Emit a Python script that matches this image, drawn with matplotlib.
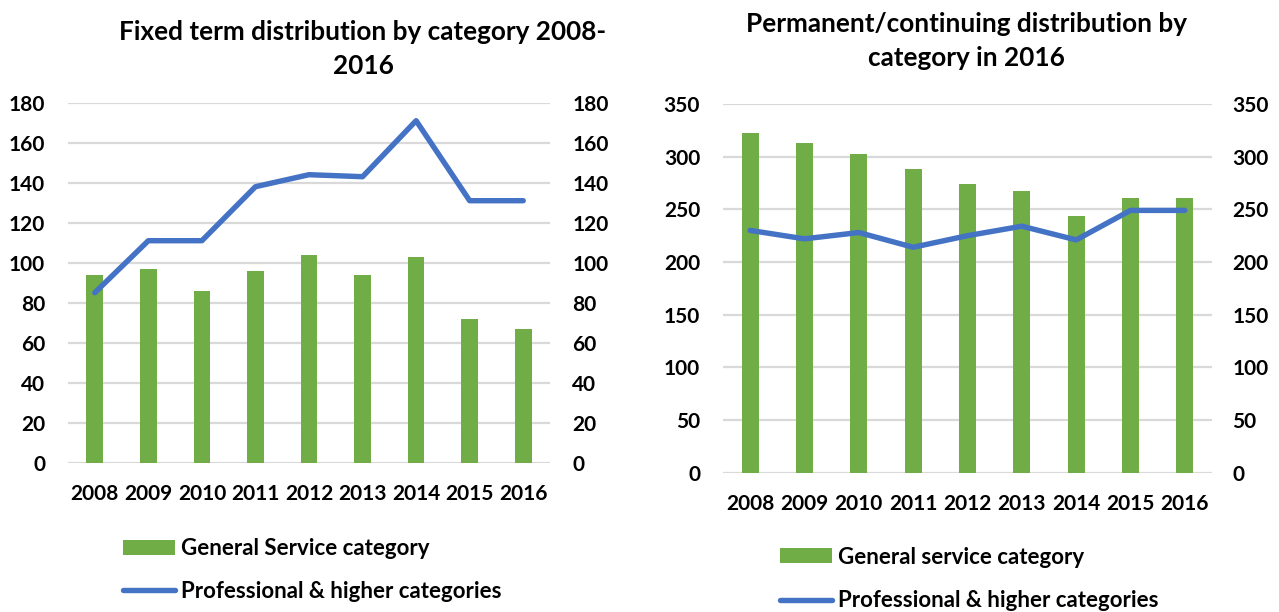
import numpy as np
import matplotlib
matplotlib.use('Agg')
import matplotlib.pyplot as plt
from matplotlib.patches import Patch
from matplotlib.lines import Line2D

years = ['2008', '2009', '2010', '2011', '2012', '2013', '2014', '2015', '2016']

fixed_general = [94, 97, 86, 96, 104, 94, 103, 72, 67]
fixed_prof = [85, 111, 111, 138, 144, 143, 171, 131, 131]

perm_general = [322, 313, 303, 288, 274, 267, 244, 261, 261]
perm_prof = [230, 222, 228, 214, 225, 234, 221, 249, 249]

green = '#70ad47'
blue = '#4472c4'
grid_col = '#d9d9d9'

plt.rcParams['font.family'] = ['Lato', 'DejaVu Sans']
plt.rcParams['font.weight'] = 'bold'

W, H = 1279, 612
fig = plt.figure(figsize=(W/100, H/100), dpi=100)

def px_axes(x0, y0, x1, y1):
    # pixel box (top-left origin) -> figure fraction
    return fig.add_axes([x0/W, 1 - y1/H, (x1-x0)/W, (y1-y0)/H])

def panel(ax, general, prof, ymax, step, lpad, rpad):
    x = np.arange(len(years))
    ax.bar(x, general, width=0.31, color=green, zorder=2)
    ax.plot(x, prof, color=blue, linewidth=3.9, solid_capstyle='round', zorder=3)
    ax.set_xlim(-0.5, len(years) - 0.5)
    ax.set_ylim(0, ymax)
    ax.set_yticks(np.arange(0, ymax + 1, step))
    ax.set_xticks(x)
    ax.set_xticklabels(years)
    ax.grid(axis='y', color=grid_col, linewidth=1.6, zorder=0)
    ax.set_axisbelow(True)
    for s in ax.spines.values():
        s.set_visible(False)
    ax.tick_params(axis='both', length=0, labelsize=15)
    ax.tick_params(axis='y', pad=lpad)
    ax.tick_params(axis='x', pad=15)
    ax2 = ax.twinx()
    ax2.set_ylim(0, ymax)
    ax2.set_yticks(np.arange(0, ymax + 1, step))
    for s in ax2.spines.values():
        s.set_visible(False)
    ax2.tick_params(axis='y', length=0, labelsize=15, pad=rpad)
    return ax2

ax1 = px_axes(68, 102.7, 550, 462.7)
panel(ax1, fixed_general, fixed_prof, 180, 20, 16.5, 16)

ax3 = px_axes(723, 104, 1212, 472.7)
panel(ax3, perm_general, perm_prof, 350, 50, 16.5, 14.5)

tfs = 18.8
fig.text(363/W, 1 - 40/H, 'Fixed term distribution by category 2008-', ha='center', va='baseline', fontsize=tfs, fontweight='bold')
fig.text(363/W, 1 - 74/H, '2016', ha='center', va='baseline', fontsize=tfs, fontweight='bold')
fig.text(966/W, 1 - 32/H, 'Permanent/continuing distribution by', ha='center', va='baseline', fontsize=tfs, fontweight='bold')
fig.text(966/W, 1 - 66/H, 'category in 2016', ha='center', va='baseline', fontsize=tfs, fontweight='bold')

def legend(x, yc, gen_label, spacing):
    handles = [Patch(facecolor=green), Line2D([0], [0], color=blue, linewidth=3.9, solid_capstyle='round')]
    labels = [gen_label, 'Professional & higher categories']
    fig.legend(handles, labels, loc='center left', bbox_to_anchor=(x/W, 1 - yc/H), frameon=False,
               fontsize=16, handlelength=2.35, handleheight=0.65, handletextpad=0.27,
               labelspacing=spacing, borderaxespad=0, borderpad=0)

legend(123, 570, 'General Service category', 0.95)
legend(780, 579, 'General service category', 1.03)

fig.savefig('out.png', dpi=100)
